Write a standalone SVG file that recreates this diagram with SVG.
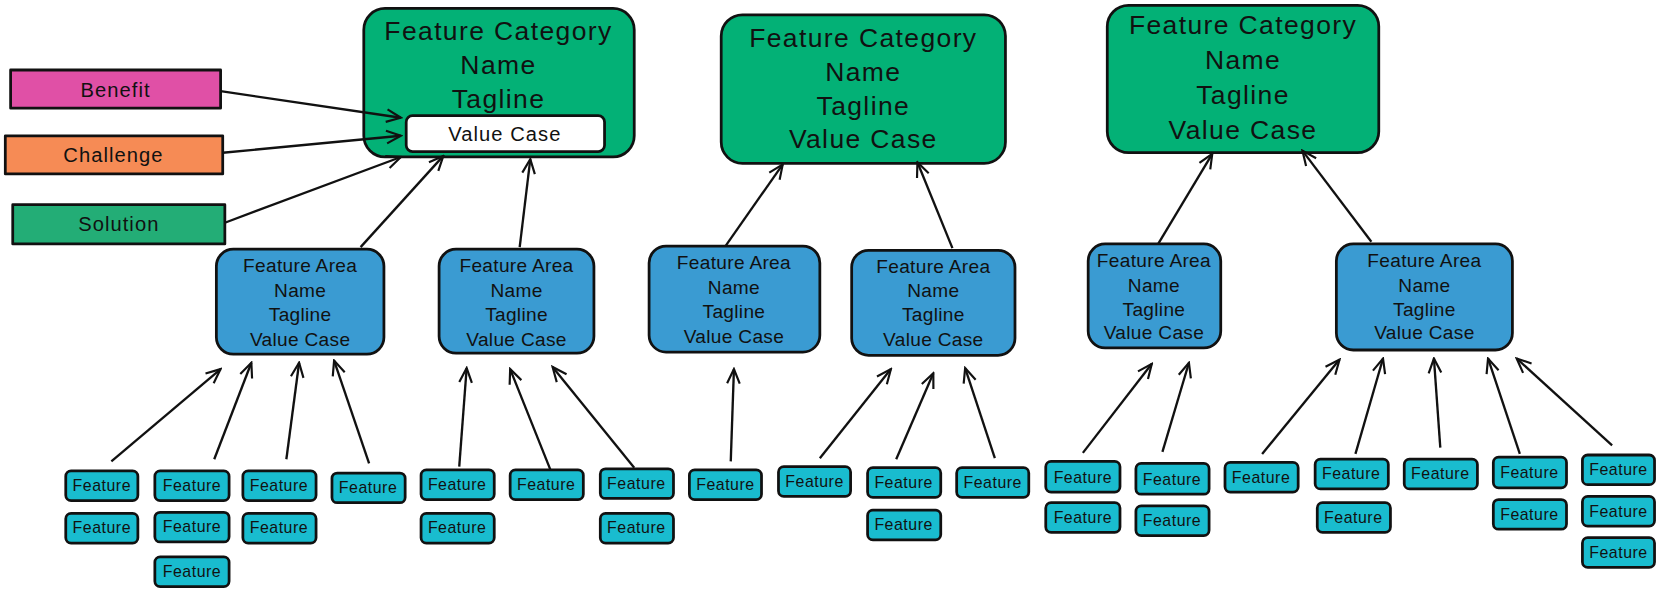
<svg xmlns="http://www.w3.org/2000/svg" width="1663" height="590" viewBox="0 0 1663 590">
<style>
text{font-family:"Liberation Sans",Arial,sans-serif;fill:#111;text-anchor:middle}
.box{stroke:#111;stroke-width:2.6;stroke-linejoin:round}
.cat{fill:#03b176}
.fa{fill:#3a9bd2}
.ft{fill:#19bccf}
.tc{font-size:25px;letter-spacing:1.3px}
.ta{font-size:18px;letter-spacing:0.3px}
.tf{font-size:15px;letter-spacing:0.5px}
.tl{font-size:19px;letter-spacing:1px}
.cn line{stroke:#111;stroke-width:2.2;marker-end:url(#ah)}
</style>
<defs>
<marker id="ah" viewBox="0 0 20 20" refX="18" refY="10" markerWidth="17" markerHeight="17" orient="auto" markerUnits="userSpaceOnUse">
<path d="M2,3 L18,10 L2,17" fill="none" stroke="#111" stroke-width="2.4"/>
</marker>
</defs>
<rect width="1663" height="590" fill="#fff"/>
<g transform="scale(1.0606)">
<g id="cat1"><rect class="box cat" x="343" y="8" width="255" height="140" rx="20"/>
<text class="tc" x="470" y="38">Feature Category</text><text class="tc" x="470" y="70">Name</text><text class="tc" x="470" y="102">Tagline</text></g>
<g id="valuecase1"><rect class="box" fill="#fff" x="383" y="109" width="187" height="34" rx="6"/><text class="tl" x="476" y="133">Value Case</text></g>
<g id="cat2"><rect class="box cat" x="680" y="14" width="268" height="140" rx="20"/>
<text class="tc" x="814" y="44">Feature Category</text><text class="tc" x="814" y="76">Name</text><text class="tc" x="814" y="108">Tagline</text><text class="tc" x="814" y="140">Value Case</text></g>
<g id="cat3"><rect class="box cat" x="1044" y="5" width="256" height="139" rx="20"/>
<text class="tc" x="1172" y="32">Feature Category</text><text class="tc" x="1172" y="65">Name</text><text class="tc" x="1172" y="98">Tagline</text><text class="tc" x="1172" y="131">Value Case</text></g>

<g id="benefit"><rect class="box" fill="#e050a6" x="10" y="66" width="198" height="36"/><text class="tl" x="109" y="91">Benefit</text></g>
<g id="challenge"><rect class="box" fill="#f68b55" x="5" y="128" width="205" height="36"/><text class="tl" x="107" y="153">Challenge</text></g>
<g id="solution"><rect class="box" fill="#23ad76" x="12" y="193" width="200" height="37"/><text class="tl" x="112" y="218">Solution</text></g>

<g id="fa1"><rect class="box fa" x="204" y="235" width="158" height="99" rx="16"/>
<text class="ta" x="283" y="256">Feature Area</text><text class="ta" x="283" y="280">Name</text><text class="ta" x="283" y="303">Tagline</text><text class="ta" x="283" y="326">Value Case</text></g>
<g id="fa2"><rect class="box fa" x="414" y="235" width="146" height="98" rx="16"/>
<text class="ta" x="487" y="256">Feature Area</text><text class="ta" x="487" y="280">Name</text><text class="ta" x="487" y="303">Tagline</text><text class="ta" x="487" y="326">Value Case</text></g>
<g id="fa3"><rect class="box fa" x="612" y="232" width="161" height="100" rx="16"/>
<text class="ta" x="692" y="254">Feature Area</text><text class="ta" x="692" y="277">Name</text><text class="ta" x="692" y="300">Tagline</text><text class="ta" x="692" y="323">Value Case</text></g>
<g id="fa4"><rect class="box fa" x="803" y="236" width="154" height="99" rx="16"/>
<text class="ta" x="880" y="257">Feature Area</text><text class="ta" x="880" y="280">Name</text><text class="ta" x="880" y="303">Tagline</text><text class="ta" x="880" y="326">Value Case</text></g>
<g id="fa5"><rect class="box fa" x="1026" y="230" width="125" height="98" rx="16"/>
<text class="ta" x="1088" y="252">Feature Area</text><text class="ta" x="1088" y="275">Name</text><text class="ta" x="1088" y="298">Tagline</text><text class="ta" x="1088" y="320">Value Case</text></g>
<g id="fa6"><rect class="box fa" x="1260" y="230" width="166" height="100" rx="16"/>
<text class="ta" x="1343" y="252">Feature Area</text><text class="ta" x="1343" y="275">Name</text><text class="ta" x="1343" y="298">Tagline</text><text class="ta" x="1343" y="320">Value Case</text></g>

<g id="f1"><rect class="box ft" x="62" y="444" width="68" height="28" rx="5"/><text class="tf" x="96" y="463">Feature</text></g>
<g id="f2"><rect class="box ft" x="62" y="484" width="68" height="28" rx="5"/><text class="tf" x="96" y="503">Feature</text></g>
<g id="f3"><rect class="box ft" x="146" y="444" width="70" height="28" rx="5"/><text class="tf" x="181" y="463">Feature</text></g>
<g id="f4"><rect class="box ft" x="146" y="483" width="70" height="28" rx="5"/><text class="tf" x="181" y="502">Feature</text></g>
<g id="f5"><rect class="box ft" x="146" y="525" width="70" height="28" rx="5"/><text class="tf" x="181" y="544">Feature</text></g>
<g id="f6"><rect class="box ft" x="229" y="444" width="69" height="28" rx="5"/><text class="tf" x="263" y="463">Feature</text></g>
<g id="f7"><rect class="box ft" x="229" y="484" width="69" height="28" rx="5"/><text class="tf" x="263" y="503">Feature</text></g>
<g id="f8"><rect class="box ft" x="313" y="446" width="69" height="28" rx="5"/><text class="tf" x="347" y="465">Feature</text></g>
<g id="f9"><rect class="box ft" x="397" y="443" width="69" height="28" rx="5"/><text class="tf" x="431" y="462">Feature</text></g>
<g id="f10"><rect class="box ft" x="397" y="484" width="69" height="28" rx="5"/><text class="tf" x="431" y="503">Feature</text></g>
<g id="f11"><rect class="box ft" x="481" y="443" width="69" height="28" rx="5"/><text class="tf" x="515" y="462">Feature</text></g>
<g id="f12"><rect class="box ft" x="566" y="442" width="69" height="28" rx="5"/><text class="tf" x="600" y="461">Feature</text></g>
<g id="f13"><rect class="box ft" x="566" y="484" width="69" height="28" rx="5"/><text class="tf" x="600" y="503">Feature</text></g>
<g id="f14"><rect class="box ft" x="650" y="443" width="68" height="28" rx="5"/><text class="tf" x="684" y="462">Feature</text></g>
<g id="f15"><rect class="box ft" x="734" y="440" width="68" height="28" rx="5"/><text class="tf" x="768" y="459">Feature</text></g>
<g id="f16"><rect class="box ft" x="818" y="441" width="69" height="28" rx="5"/><text class="tf" x="852" y="460">Feature</text></g>
<g id="f17"><rect class="box ft" x="818" y="481" width="69" height="28" rx="5"/><text class="tf" x="852" y="500">Feature</text></g>
<g id="f18"><rect class="box ft" x="902" y="441" width="68" height="28" rx="5"/><text class="tf" x="936" y="460">Feature</text></g>
<g id="f19"><rect class="box ft" x="986" y="435" width="70" height="29" rx="5"/><text class="tf" x="1021" y="455">Feature</text></g>
<g id="f20"><rect class="box ft" x="986" y="474" width="70" height="28" rx="5"/><text class="tf" x="1021" y="493">Feature</text></g>
<g id="f21"><rect class="box ft" x="1071" y="437" width="69" height="29" rx="5"/><text class="tf" x="1105" y="457">Feature</text></g>
<g id="f22"><rect class="box ft" x="1071" y="477" width="69" height="28" rx="5"/><text class="tf" x="1105" y="496">Feature</text></g>
<g id="f23"><rect class="box ft" x="1155" y="436" width="69" height="28" rx="5"/><text class="tf" x="1189" y="455">Feature</text></g>
<g id="f24"><rect class="box ft" x="1240" y="433" width="69" height="28" rx="5"/><text class="tf" x="1274" y="452">Feature</text></g>
<g id="f25"><rect class="box ft" x="1242" y="474" width="69" height="28" rx="5"/><text class="tf" x="1276" y="493">Feature</text></g>
<g id="f26"><rect class="box ft" x="1324" y="433" width="69" height="28" rx="5"/><text class="tf" x="1358" y="452">Feature</text></g>
<g id="f27"><rect class="box ft" x="1408" y="431" width="69" height="29" rx="5"/><text class="tf" x="1442" y="451">Feature</text></g>
<g id="f28"><rect class="box ft" x="1408" y="471" width="69" height="28" rx="5"/><text class="tf" x="1442" y="490">Feature</text></g>
<g id="f29"><rect class="box ft" x="1492" y="429" width="68" height="28" rx="5"/><text class="tf" x="1526" y="448">Feature</text></g>
<g id="f30"><rect class="box ft" x="1492" y="468" width="68" height="28" rx="5"/><text class="tf" x="1526" y="487">Feature</text></g>
<g id="f31"><rect class="box ft" x="1492" y="507" width="68" height="28" rx="5"/><text class="tf" x="1526" y="526">Feature</text></g>

<g id="connectors" class="cn">
<line x1="208" y1="86" x2="378" y2="111"/>
<line x1="210" y1="144" x2="378" y2="128"/>
<line x1="212" y1="210" x2="378" y2="148"/>
<line x1="340" y1="233" x2="418" y2="147"/>
<line x1="490" y1="233" x2="500" y2="150"/>
<line x1="684" y1="232" x2="738" y2="155"/>
<line x1="898" y1="234" x2="865" y2="153"/>
<line x1="1092" y1="230" x2="1143" y2="145"/>
<line x1="1293" y1="228" x2="1228" y2="142"/>
<line x1="105" y1="435" x2="208" y2="348"/>
<line x1="202" y1="433" x2="237" y2="342"/>
<line x1="270" y1="433" x2="282" y2="342"/>
<line x1="348" y1="437" x2="315" y2="340"/>
<line x1="433" y1="440" x2="440" y2="347"/>
<line x1="519" y1="443" x2="481" y2="348"/>
<line x1="598" y1="441" x2="521" y2="346"/>
<line x1="689" y1="435" x2="692" y2="348"/>
<line x1="773" y1="432" x2="840" y2="348"/>
<line x1="845" y1="433" x2="880" y2="352"/>
<line x1="938" y1="432" x2="910" y2="347"/>
<line x1="1021" y1="427" x2="1086" y2="343"/>
<line x1="1096" y1="426" x2="1121" y2="342"/>
<line x1="1190" y1="428" x2="1263" y2="339"/>
<line x1="1278" y1="428" x2="1304" y2="338"/>
<line x1="1358" y1="422" x2="1352" y2="338"/>
<line x1="1433" y1="428" x2="1403" y2="338"/>
<line x1="1520" y1="420" x2="1430" y2="338"/>
</g>
</g>
</svg>
